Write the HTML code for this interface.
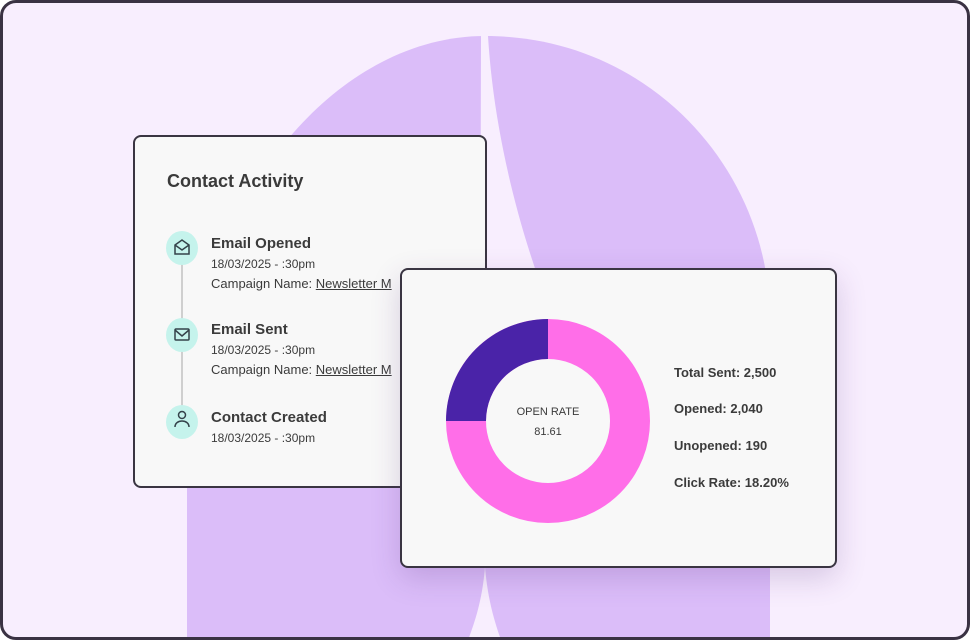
<!DOCTYPE html>
<html><head><meta charset="utf-8"><style>
*{margin:0;padding:0;box-sizing:border-box}
body{width:970px;height:640px;overflow:hidden;background:#fff;font-family:"Liberation Sans",sans-serif}
#frame{position:absolute;left:0;top:0;width:970px;height:640px;border:3px solid #3a3243;border-radius:16px;background:#f8eefe;overflow:hidden}
svg.bg{position:absolute;left:-3px;top:-3px}
.card{position:absolute;background:#f8f8f8;border:2px solid #3a3542;border-radius:8px}
.t{position:absolute;color:#3b3b3b;white-space:nowrap}
.ic{position:absolute;width:32px;height:34px;border-radius:50%;background:#c5f3ec}
</style></head><body>
<div id="frame">
<svg class="bg" width="970" height="640">
<path d="M187,640 L187,440 C187,210 330,36 485,36 C650,36 770,170 770,320 L770,640 Z" fill="#dbbdf9"/>
<path d="M481,36 L488,36 C495,150 530,290 605,430 L480,430 Z" fill="#f8eefe"/>
<path d="M468,640 C479,612 483,590 485,567 C487,590 491,612 501,640 Z" fill="#f8eefe"/>
</svg>
<div class="card" style="left:130px;top:132px;width:354px;height:353px">
<div class="t" style="left:32px;top:34px;font-size:18px;font-weight:bold;color:#3a3a3a">Contact Activity</div>
<div style="position:absolute;left:46px;top:112px;width:2px;height:176px;background:#cfcfcf"></div>
<div class="ic" style="left:31px;top:94px"></div>
<div class="ic" style="left:31px;top:181px"></div>
<div class="ic" style="left:31px;top:268px"></div>
<svg style="position:absolute;left:37px;top:100px" width="20" height="200" fill="none" stroke="#34424a" stroke-width="1.5">
<path d="M3,8 L10,3 L17,8 L17,17 L3,17 Z M3,8 L10,13 L17,8"/>
<rect x="3" y="92" width="14" height="11" rx="1"/><path d="M3,93 L10,99 L17,93"/>
<circle cx="10" cy="178" r="3.5"/><path d="M3,190 C3,182 17,182 17,190"/>
</svg>
<div class="t" style="left:76px;top:98px;font-size:15px;font-weight:bold">Email Opened</div>
<div class="t" style="left:76px;top:120px;font-size:12px">18/03/2025 - :30pm</div>
<div class="t" style="left:76px;top:139px;font-size:13px">Campaign Name: <u>Newsletter M</u></div>
<div class="t" style="left:76px;top:184px;font-size:15px;font-weight:bold">Email Sent</div>
<div class="t" style="left:76px;top:206px;font-size:12px">18/03/2025 - :30pm</div>
<div class="t" style="left:76px;top:225px;font-size:13px">Campaign Name: <u>Newsletter M</u></div>
<div class="t" style="left:76px;top:272px;font-size:15px;font-weight:bold">Contact Created</div>
<div class="t" style="left:76px;top:294px;font-size:12px">18/03/2025 - :30pm</div>
</div>
<div class="card" style="left:397px;top:265px;width:437px;height:300px;box-shadow:0 10px 30px rgba(80,40,120,0.2)">
<svg style="position:absolute;left:0;top:0" width="437" height="300">
<circle cx="146" cy="151" r="82" fill="none" stroke="#ff6ee8" stroke-width="40"/>
<path d="M146,49 A102,102 0 0 0 44,151 L84,151 A62,62 0 0 1 146,89 Z" fill="#4a23a8"/>
</svg>
<div class="t" style="left:106px;top:136px;width:80px;text-align:center;font-size:11px">OPEN RATE</div>
<div class="t" style="left:106px;top:156px;width:80px;text-align:center;font-size:11px">81.61</div>
<div class="t" style="left:272px;top:95px;font-size:13px;font-weight:bold">Total Sent: 2,500</div>
<div class="t" style="left:272px;top:131px;font-size:13px;font-weight:bold">Opened: 2,040</div>
<div class="t" style="left:272px;top:168px;font-size:13px;font-weight:bold">Unopened: 190</div>
<div class="t" style="left:272px;top:205px;font-size:13px;font-weight:bold">Click Rate: 18.20%</div>
</div>
</div>
</body></html>
